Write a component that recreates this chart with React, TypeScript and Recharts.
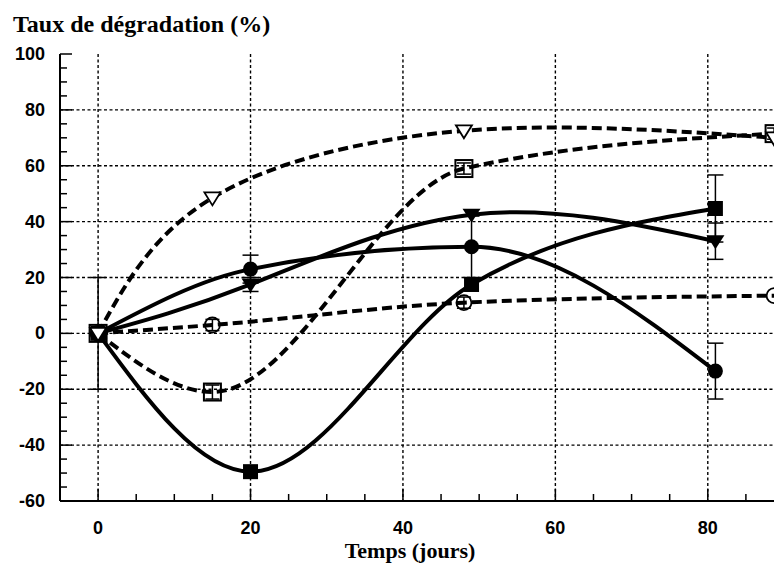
import React from "react";
import { LineChart, Line, XAxis, YAxis, CartesianGrid, ErrorBar } from "recharts";

// jours de prélèvement (séries pleines / séries vides)
const tempsPlein = [0, 20, 49, 81];
const tempsVide = [0, 15, 48, 88.7];

// taux de dégradation (%)
const rondPlein = [0, 23, 31, -13.5];
const rondPleinErr = [0, 5, 11, 10];
const trianglePlein = [0, 17.5, 42.5, 33];
const trianglePleinErr = [0, 2.5, 0, 6.5];
const carrePlein = [0, -49.5, 17.5, 44.7];
const carrePleinErr = [20, 0, 0, 12];

const triangleVide = [0, 48.5, 72.5, 70];
const carreVide = [0, -21, 59, 71.5];
const carreVideErr = [0, 2.5, 2, 2];
const rondVide = [0, 3, 11, 13.5];
const rondVideErr = [0, 2, 2, 0];

const xTicks = [0, 5, 10, 15, 20, 25, 30, 35, 40, 45, 50, 55, 60, 65, 70, 75, 80, 85, 90];
const yTicks = [-60, -55, -50, -45, -40, -35, -30, -25, -20, -15, -10, -5, 0, 5, 10, 15, 20, 25, 30, 35, 40, 45, 50, 55, 60, 65, 70, 75, 80, 85, 90, 95, 100];
const xGrid = [0, 20, 40, 60, 80];
const yGrid = [-40, -20, 0, 20, 40, 60, 80];

const SANS = "'Liberation Sans', Arial, Helvetica, sans-serif";
const SERIF = "'Liberation Serif', 'Times New Roman', serif";

type Pt = { x: number; y: number; err: number };

function points(xs: number[], ys: number[], errs?: number[]): Pt[] {
  return xs.map((x, i) => ({ x, y: ys[i], err: errs ? errs[i] : 0 }));
}

const sRondPlein = points(tempsPlein, rondPlein, rondPleinErr);
const sTrianglePlein = points(tempsPlein, trianglePlein, trianglePleinErr);
const sCarrePlein = points(tempsPlein, carrePlein, carrePleinErr);
const sTriangleVide = points(tempsVide, triangleVide);
const sCarreVide = points(tempsVide, carreVide, carreVideErr);
const sRondVide = points(tempsVide, rondVide, rondVideErr);

const withErr = (s: Pt[]) => s.filter((p) => p.err > 0);

// markers
const dotRondPlein = (p: any) => (
  <circle key={`rp${p.index}`} cx={p.cx} cy={p.cy} r={7.5} fill="#000" />
);
const dotCarrePlein = (p: any) => (
  <rect key={`cp${p.index}`} x={p.cx - 7.5} y={p.cy - 7.5} width={15} height={15} fill="#000" />
);
const dotTrianglePlein = (p: any) => (
  <polygon
    key={`tp${p.index}`}
    points={`${p.cx - 9},${p.cy - 6} ${p.cx + 9},${p.cy - 6} ${p.cx},${p.cy + 8}`}
    fill="#000"
  />
);
const dotTriangleVide = (p: any) => (
  <polygon
    key={`tv${p.index}`}
    points={`${p.cx - 8},${p.cy - 5.5} ${p.cx + 8},${p.cy - 5.5} ${p.cx},${p.cy + 7.5}`}
    fill="#fff"
    stroke="#000"
    strokeWidth={1.8}
  />
);
const dotCarreVide = (p: any) => (
  <rect
    key={`cv${p.index}`}
    x={p.cx - 8.5}
    y={p.cy - 8.5}
    width={17}
    height={17}
    fill="none"
    stroke="#000"
    strokeWidth={2}
  />
);
const dotRondVide = (p: any) => (
  <circle key={`rv${p.index}`} cx={p.cx} cy={p.cy} r={7.5} fill="none" stroke="#000" strokeWidth={1.8} />
);

// inward ticks, labels every 20
const BottomTick = ({ x, y, payload }: any) => {
  const v = payload.value;
  const major = v % 20 === 0;
  return (
    <g>
      <line x1={x} x2={x} y1={y} y2={y - (major ? 12 : 7)} stroke="#000" strokeWidth={1.5} />
      {major && (
        <text x={x} y={y + 27} textAnchor="middle" dominantBaseline="central" fontFamily={SANS} fontWeight="bold" fontSize={18} fill="#000">
          {v}
        </text>
      )}
    </g>
  );
};

const TopTick = ({ x, y, payload }: any) => {
  const major = payload.value % 20 === 0;
  return <line x1={x} x2={x} y1={y} y2={y + (major ? 12 : 7)} stroke="#000" strokeWidth={1.5} />;
};

const LeftTick = ({ x, y, payload }: any) => {
  const v = payload.value;
  const major = v % 20 === 0;
  return (
    <g>
      <line x1={x} x2={x + (major ? 12 : 7)} y1={y} y2={y} stroke="#000" strokeWidth={1.5} />
      {major && (
        <text x={x - 15} y={y} textAnchor="end" dominantBaseline="central" fontFamily={SANS} fontWeight="bold" fontSize={18} fill="#000">
          {v}
        </text>
      )}
    </g>
  );
};

const solid = { stroke: "#000", strokeWidth: 4, fill: "none" };
const dashed = { stroke: "#000", strokeWidth: 4, fill: "none", strokeDasharray: "10 5" };

export default function App() {
  return (
    <div style={{ position: "absolute", left: 0, top: 0, width: 774, height: 563, overflow: "hidden", background: "#fff" }}>
      <LineChart width={784} height={563} margin={{ top: 54, right: 0, left: 0, bottom: 0 }}>
        <CartesianGrid
          verticalValues={xGrid}
          horizontalValues={yGrid}
          stroke="#000"
          strokeWidth={1.4}
          strokeDasharray="3 2.5"
        />
        <XAxis
          type="number"
          dataKey="x"
          domain={[-5, 90]}
          ticks={xTicks}
          interval={0}
          height={62}
          tickSize={0}
          tickMargin={0}
          tickLine={false}
          axisLine={{ stroke: "#000", strokeWidth: 2 }}
          tick={(p: any) => <BottomTick {...p} />}
          allowDataOverflow
        />
        <XAxis
          xAxisId="top"
          orientation="top"
          type="number"
          dataKey="x"
          domain={[-5, 90]}
          ticks={xTicks}
          interval={0}
          height={0}
          tickSize={0}
          tickMargin={0}
          tickLine={false}
          axisLine={{ stroke: "#000", strokeWidth: 2 }}
          tick={(p: any) => <TopTick {...p} />}
          allowDataOverflow
        />
        <YAxis
          type="number"
          domain={[-60, 100]}
          ticks={yTicks}
          interval={0}
          width={60}
          tickSize={0}
          tickMargin={0}
          tickLine={false}
          axisLine={{ stroke: "#000", strokeWidth: 2 }}
          tick={(p: any) => <LeftTick {...p} />}
          allowDataOverflow
        />

        {/* barres d'erreur des séries pleines, sous les courbes */}
        {[sRondPlein, sTrianglePlein, sCarrePlein].map((s, i) => (
          <Line key={`eb${i}`} data={withErr(s)} dataKey="y" stroke="none" dot={false} activeDot={false} isAnimationActive={false}>
            <ErrorBar dataKey="err" direction="y" width={8} stroke="#000" strokeWidth={1.5} />
          </Line>
        ))}

        <Line data={sRondVide} dataKey="y" type="monotone" {...dashed} dot={dotRondVide} activeDot={false} isAnimationActive={false} />
        <Line data={sCarreVide} dataKey="y" type="monotone" {...dashed} dot={dotCarreVide} activeDot={false} isAnimationActive={false} />
        <Line data={sRondPlein} dataKey="y" type="monotone" {...solid} dot={dotRondPlein} activeDot={false} isAnimationActive={false} />
        <Line data={sTrianglePlein} dataKey="y" type="natural" {...solid} dot={dotTrianglePlein} activeDot={false} isAnimationActive={false} />
        <Line data={sCarrePlein} dataKey="y" type="monotone" {...solid} dot={dotCarrePlein} activeDot={false} isAnimationActive={false} />
        <Line data={sTriangleVide} dataKey="y" type="natural" {...dashed} dot={dotTriangleVide} activeDot={false} isAnimationActive={false} />

        {/* petites barres d'erreur dessinées dans les symboles vides */}
        {[sCarreVide, sRondVide].map((s, i) => (
          <Line key={`ev${i}`} data={withErr(s)} dataKey="y" stroke="none" dot={false} activeDot={false} isAnimationActive={false}>
            <ErrorBar dataKey="err" direction="y" width={7} stroke="#000" strokeWidth={1.5} />
          </Line>
        ))}
      </LineChart>
      <svg width={774} height={563} style={{ position: "absolute", left: 0, top: 0, pointerEvents: "none" }}>
        <text x={13} y={32} fontFamily={SERIF} fontWeight="bold" fontSize={24} fill="#000">
          Taux de dégradation (%)
        </text>
        <text x={410} y={558} textAnchor="middle" fontFamily={SERIF} fontWeight="bold" fontSize={22} fill="#000">
          Temps (jours)
        </text>
      </svg>
    </div>
  );
}
